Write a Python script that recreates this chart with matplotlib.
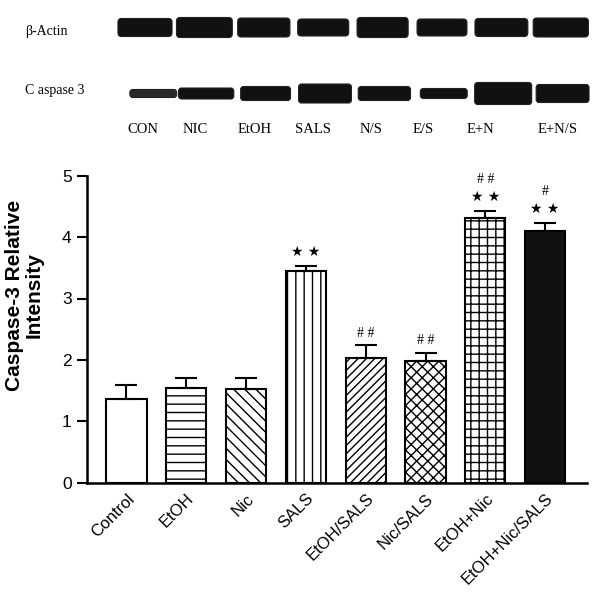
import matplotlib
matplotlib.use("Agg")
import matplotlib.pyplot as plt
from matplotlib.patches import FancyBboxPatch
import numpy as np

# ---------------- data ----------------
categories = ["Control", "EtOH", "Nic", "SALS", "EtOH/SALS", "Nic/SALS", "EtOH+Nic", "EtOH+Nic/SALS"]
values = [1.36, 1.55, 1.52, 3.45, 2.03, 1.98, 4.31, 4.10]
errors = [0.23, 0.16, 0.19, 0.08, 0.21, 0.14, 0.12, 0.13]
stars = ["", "", "", "**", "", "", "**", "**"]
hashes = ["", "", "", "", "##", "##", "##", "#"]

lanes = ["CON", "NIC", "EtOH", "SALS", "N/S", "E/S", "E+N", "E+N/S"]
# band appearance read from the blot (relative band thickness)
actin_band = [18, 20, 19, 17, 20, 17, 18, 19]
caspase_band = [8, 11, 14, 19, 14, 10, 22, 18]
actin_width = [0.91, 0.94, 0.88, 0.86, 0.86, 0.84, 0.89, 0.93]
caspase_width = [0.79, 0.93, 0.84, 0.89, 0.88, 0.79, 0.96, 0.89]

# ---------------- figure ----------------
W, H = 602, 596
fig = plt.figure(figsize=(W / 100, H / 100), dpi=100)
plt.rcParams['hatch.linewidth'] = 1.0

sans = ["Liberation Sans", "DejaVu Sans"]
serif = ["Liberation Serif", "DejaVu Serif"]

# ---- blot panel ----
lane_pitch = 59.4
lane0 = 145.0
bx0 = lane0 - 0.5 * lane_pitch
bx1 = lane0 + 7.5 * lane_pitch
ax_b = fig.add_axes([bx0 / W, 1 - 140 / H, (bx1 - bx0) / W, 140 / H])
row_px = 66.0
ax_b.set_xlim(-0.5, 7.5)
ax_b.set_ylim((140 - 27.5) / row_px, -27.5 / row_px)
ax_b.axis("off")

label_shift = [-0.04, -0.15, -0.16, -0.17, -0.2, -0.32, -0.35, -0.06]
for i in range(len(lanes)):
    h = actin_band[i] / row_px
    w = actin_width[i]
    ax_b.add_patch(FancyBboxPatch((i - w / 2, 0 - h / 2), w, h,
                                  boxstyle="round,pad=0,rounding_size=0.06",
                                  mutation_aspect=0.9,
                                  fc="#111111", ec="#222222", lw=0.8))
    h = caspase_band[i] / row_px
    w = caspase_width[i]
    col = "#2a2a2a" if i == 0 else "#111111"
    ax_b.add_patch(FancyBboxPatch((i - w / 2 + (0.14 if i == 0 else 0.03), 1 - h / 2), w, h,
                                  boxstyle="round,pad=0,rounding_size=0.05",
                                  mutation_aspect=0.9,
                                  fc=col, ec="#222222", lw=0.8))
    ax_b.text(i + label_shift[i], 1.55, lanes[i],
              ha="center", va="center", fontsize=10.5, family=serif)

fig.text(25 / W, 1 - 31.5 / H, "β-Actin", ha="left", va="center", fontsize=10, family=serif)
fig.text(25 / W, 1 - 90 / H, "C aspase 3", ha="left", va="center", fontsize=10, family=serif)

# ---- bar chart ----
left, right = 87, 587
y0px, y5px = 482.7, 175.7
ax = fig.add_axes([left / W, 1 - y0px / H, (right - left) / W, (y0px - y5px) / H])
x = np.arange(len(categories))
hatches = ["", "--", "\\\\\\", "||", "////", "xxx", "++", ""]
faces = ["white"] * 7 + ["#111111"]
for i in range(len(categories)):
    ax.bar(x[i], values[i], width=0.67, color=faces[i], edgecolor="black",
           linewidth=1.5, hatch=hatches[i], zorder=2)
    ax.errorbar(x[i], values[i], yerr=[[0], [errors[i]]], fmt="none",
                ecolor="black", elinewidth=1.5, capsize=8, capthick=1.5, zorder=3)

for i in range(len(categories)):
    top = values[i] + errors[i]
    if stars[i]:
        ax.annotate("★ ★", (x[i], top), xytext=(0, 14), textcoords="offset pixels",
                    ha="center", va="center", fontsize=10, family=["DejaVu Sans"],
                    annotation_clip=False)
        off = 31
    else:
        off = 12
    if hashes[i]:
        s = " ".join(list(hashes[i]))
        ax.annotate(s, (x[i], top), xytext=(0, off), textcoords="offset pixels",
                    ha="center", va="center", fontsize=10, family=serif,
                    annotation_clip=False)

ax.set_xlim(-0.66, 7.7)
ax.set_ylim(0, 5)
ax.set_yticks([0, 1, 2, 3, 4, 5])
ax.set_xticks(x)
ax.set_xticklabels(categories, rotation=45, ha="right", va="top",
                   rotation_mode="anchor", fontsize=12, family=sans)
for lab in ax.get_yticklabels():
    lab.set_family(sans)
    lab.set_fontsize(12.5)
ax.tick_params(axis="y", length=7, width=1.5, pad=4)
ax.tick_params(axis="x", length=0, pad=6)
for s in ["top", "right"]:
    ax.spines[s].set_visible(False)
for s in ["left", "bottom"]:
    ax.spines[s].set_linewidth(1.8)
ax.set_ylabel("Caspase-3 Relative\nIntensity", fontsize=15, fontweight="bold",
              family=sans, linespacing=1.0)
ax.yaxis.set_label_coords(-0.087, 0.61)

fig.savefig("out.png", dpi=100)
